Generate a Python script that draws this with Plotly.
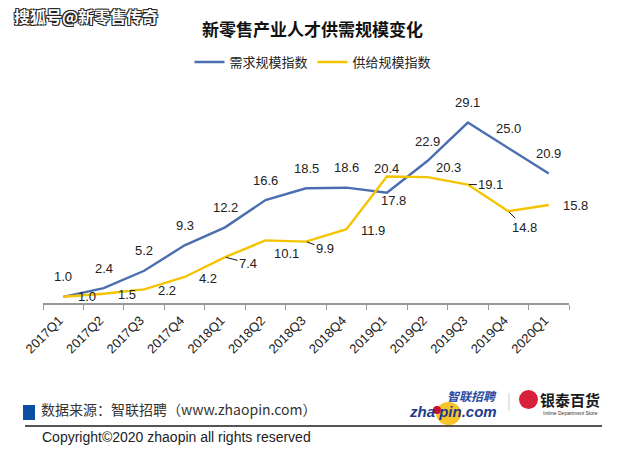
import plotly.graph_objects as go

# ---------------- data ----------------
quarters = ["2017Q1", "2017Q2", "2017Q3", "2017Q4", "2018Q1", "2018Q2", "2018Q3",
            "2018Q4", "2019Q1", "2019Q2", "2019Q3", "2019Q4", "2020Q1"]
demand = [1.0, 2.4, 5.2, 9.3, 12.2, 16.6, 18.5, 18.6, 17.8, 22.9, 29.1, 25.0, 20.9]
supply = [1.0, 1.5, 2.2, 4.2, 7.4, 10.1, 9.9, 11.9, 20.4, 20.3, 19.1, 14.8, 15.8]
demand_name = "需求规模指数"
supply_name = "供给规模指数"

# label offsets in pixels (dx right, dy up), leader flag
demand_off = [(0, 20)] * 8 + [(7, -8)] + [(0, 20)] * 4
supply_off = [(24, 0), (23, -1), (23, -1), (23, -2), (23, -6), (21, -13), (19, -7),
              (27, -1), (0, 8), (21, 10), (23, 0), (16, -16), (27, 0)]
supply_leader = [False, False, False, False, True, False, True,
                 False, False, False, True, True, False]

W, H = 640, 457
L, R, T, B = 43, 71, 86, 154
PW, PH = W - L - R, H - T - B


def px(xp):
    return (xp - L) / PW


def py(yp):
    return (H - B - yp) / PH


BLUE = "#4a6eb0"
GOLD = "#f5c400"
LABEL_FONT = dict(family="Liberation Sans, Arial, sans-serif", size=13, color="#222222")
CJK = "Noto Sans CJK SC, sans-serif"

fig = go.Figure()
fig.add_trace(go.Scatter(x=quarters, y=demand, mode="lines", name=demand_name,
                         line=dict(color=BLUE, width=2.4)))
fig.add_trace(go.Scatter(x=quarters, y=supply, mode="lines", name=supply_name,
                         line=dict(color=GOLD, width=2.4)))

annotations = []
for q, v, (dx, dy) in zip(quarters, demand, demand_off):
    annotations.append(dict(x=q, y=v, xref="x", yref="y", text=f"{v:.1f}",
                            showarrow=False, xshift=dx, yshift=dy, font=LABEL_FONT))
for q, v, (dx, dy), lead in zip(quarters, supply, supply_off, supply_leader):
    if lead:
        annotations.append(dict(x=q, y=v, xref="x", yref="y", text=f"{v:.1f}",
                                showarrow=True, ax=dx, ay=-dy, arrowhead=0,
                                arrowwidth=1, arrowcolor="#111111", standoff=1,
                                xanchor="center", yanchor="middle", font=LABEL_FONT))
    else:
        annotations.append(dict(x=q, y=v, xref="x", yref="y", text=f"{v:.1f}",
                                showarrow=False, xshift=dx, yshift=dy, font=LABEL_FONT))

# title
annotations.append(dict(x=px(312), y=py(28), xref="paper", yref="paper",
                        text="<b>新零售产业人才供需规模变化</b>", showarrow=False,
                        xanchor="center", yanchor="middle",
                        font=dict(family=CJK, size=17, color="#111111")))
# watermark
annotations.append(dict(x=px(12), y=py(16), xref="paper", yref="paper",
                        text="<b>搜狐号@新零售传奇</b>", showarrow=False,
                        xanchor="left", yanchor="middle",
                        font=dict(family=CJK, size=16, color="#ffffff",
                                  shadow="-1px -1px 0 #222, 1px -1px 0 #222, -1px 1px 0 #222, 1px 1px 0 #222")))
# footer texts
annotations.append(dict(x=px(39), y=py(409), xref="paper", yref="paper",
                        text="数据来源：智联招聘（www.zhaopin.com）", showarrow=False,
                        xanchor="left", yanchor="middle",
                        font=dict(family=CJK, size=14, color="#333333")))
annotations.append(dict(x=px(40), y=py(437), xref="paper", yref="paper",
                        text="Copyright©2020 zhaopin all rights reserved", showarrow=False,
                        xanchor="left", yanchor="middle",
                        font=dict(family="Liberation Sans, Arial, sans-serif", size=14, color="#222222")))
# zhaopin logo text
annotations.append(dict(x=px(472), y=py(395), xref="paper", yref="paper",
                        text="<b><i>智联招聘</i></b>", showarrow=False,
                        xanchor="center", yanchor="middle",
                        font=dict(family=CJK, size=12, color="#2b4aa0")))
annotations.append(dict(x=px(453), y=py(411), xref="paper", yref="paper",
                        text="<b><i>zha pin.com</i></b>", showarrow=False,
                        xanchor="center", yanchor="middle",
                        font=dict(family="Liberation Sans, Arial, sans-serif", size=15, color="#1f3c8c")))
# intime logo text
annotations.append(dict(x=px(570), y=py(399), xref="paper", yref="paper",
                        text="<b>银泰百货</b>", showarrow=False,
                        xanchor="center", yanchor="middle",
                        font=dict(family=CJK, size=15, color="#1a1a1a")))
annotations.append(dict(x=px(570), y=py(413), xref="paper", yref="paper",
                        text="Intime Department Store", showarrow=False,
                        xanchor="center", yanchor="middle",
                        font=dict(family="Liberation Sans, Arial, sans-serif", size=5, color="#333333")))

shapes = [
    dict(type="rect", xref="paper", yref="paper", x0=px(23), x1=px(35), y0=py(420), y1=py(405),
         fillcolor="#0b4ea2", line=dict(width=0)),
    dict(type="line", xref="paper", yref="paper", x0=px(25), x1=px(602), y0=py(426), y1=py(426),
         line=dict(color="#555555", width=2)),
    dict(type="circle", xref="paper", yref="paper", x0=px(436), x1=px(461), y0=py(425), y1=py(402),
         fillcolor="#f7c42a", line=dict(width=0), layer="below"),
    dict(type="circle", xref="paper", yref="paper", x0=px(433), x1=px(441), y0=py(414), y1=py(406),
         fillcolor="#c8102e", line=dict(width=0)),
    dict(type="line", xref="paper", yref="paper", x0=px(509), x1=px(509), y0=py(393), y1=py(411),
         line=dict(color="#cccccc", width=1)),
    dict(type="circle", xref="paper", yref="paper", x0=px(519), x1=px(538), y0=py(409), y1=py(390),
         fillcolor="#d9203b", line=dict(width=0)),
]

fig.update_layout(
    width=W, height=H,
    margin=dict(l=L, r=R, t=T, b=B, autoexpand=False),
    paper_bgcolor="white", plot_bgcolor="white",
    showlegend=True,
    legend=dict(orientation="h", xref="container", yref="container",
                x=313 / W, y=1 - 62 / H, xanchor="center", yanchor="middle",
                font=dict(family=CJK, size=13, color="#222222"),
                itemwidth=30, tracegroupgap=0, bgcolor="rgba(0,0,0,0)"),
    xaxis=dict(type="category", range=[-0.5, 12.5], showgrid=False, zeroline=False,
               showline=True, linecolor="#999999", linewidth=1.5,
               ticks="outside", ticklen=5, tickcolor="#999999", tickwidth=1,
               tickson="boundaries", tickangle=-45, ticklabelshift=-4, ticklabelstandoff=3,
               tickfont=dict(family="Liberation Sans, Arial, sans-serif", size=13, color="#222222")),
    yaxis=dict(range=[0, 35], visible=False, showgrid=False, zeroline=False),
    annotations=annotations,
    shapes=shapes,
)

fig.write_html("out.html", config={"displayModeBar": False},
               post_script="document.body.style.margin='0';document.body.style.padding='0';")
